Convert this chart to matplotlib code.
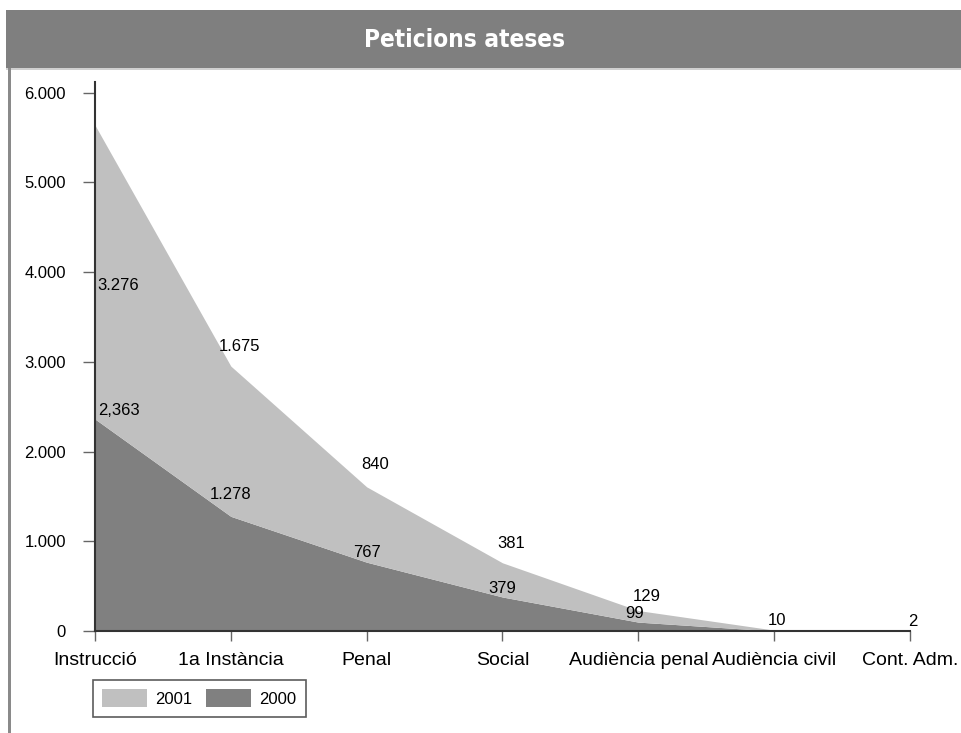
import matplotlib.pyplot as plt
from matplotlib.patches import Patch, Rectangle
from matplotlib.ticker import FuncFormatter
import numpy as np

plt.rcParams['font.family'] = ['Liberation Sans', 'DejaVu Sans']

categories = ['Instrucció', '1a Instància', 'Penal', 'Social',
              'Audiència penal', 'Audiència civil', 'Cont. Adm.']
v2000 = [2363, 1278, 767, 379, 99, 0, 0]
v2001 = [3276, 1675, 840, 381, 129, 10, 2]
lab2000 = ['2,363', '1.278', '767', '379', '99', '', '']
lab2001 = ['3.276', '1.675', '840', '381', '129', '10', '2']
yticks = [0, 1000, 2000, 3000, 4000, 5000, 6000]

c_light = '#c0c0c0'
c_dark = '#808080'

fig = plt.figure(figsize=(9.62, 7.33), dpi=100)

# title bar and left border
fig.patches.append(Rectangle((6/962, 1-68/733), 1, 58/733, transform=fig.transFigure,
                             facecolor='#7f7f7f', edgecolor='none'))
fig.patches.append(Rectangle((6/962, 1-70/733), 1, 2/733, transform=fig.transFigure,
                             facecolor='#d0d0d0', edgecolor='none'))
fig.patches.append(Rectangle((8/962, 0), 3/962, 1-68/733, transform=fig.transFigure,
                             facecolor='#8a8a8a', edgecolor='none'))
fig.text(0.483, 1-40/733, 'Peticions ateses', color='white', fontsize=17.5,
         fontweight='bold', fontstretch='condensed', ha='center', va='center',
         family=['DejaVu Sans'])

ax = fig.add_axes([95/962, 1-631/733, 815/962, 549/733])
x = np.arange(len(categories))
low = np.array(v2000)
top = low + np.array(v2001)
ax.fill_between(x, 0, low, color=c_dark, lw=0)
ax.fill_between(x, low, top, color=c_light, lw=0)

ax.set_xlim(0, len(categories) - 1)
ax.set_ylim(0, 6120)
ax.set_yticks(yticks)
ax.yaxis.set_major_formatter(FuncFormatter(lambda v, p: f'{int(v):,}'.replace(',', '.')))
ax.set_xticks(x)
ax.set_xticklabels(categories)

for s in ['top', 'right']:
    ax.spines[s].set_visible(False)
for s in ['left', 'bottom']:
    ax.spines[s].set_color('#333333')
    ax.spines[s].set_linewidth(1.5)
ax.tick_params(axis='y', length=9, width=1, color='#666666', labelsize=12, pad=12)
ax.tick_params(axis='x', length=7, width=1, color='#666666', labelsize=14, pad=8)

# value labels
fs = 12
off2001 = [0, 14, 16, 14, 10, 7, 7]
off2000 = [6, 16, 7, 6, 6, 0, 0]
for i in range(len(categories)):
    if i == 0:
        ax.annotate(lab2001[i], xy=(i, (low[i] + top[i]) / 2), xytext=(2, -10),
                    textcoords='offset points', ha='left', va='center', fontsize=fs)
        ax.annotate(lab2000[i], xy=(i, low[i]), xytext=(2, off2000[i]),
                    textcoords='offset points', ha='left', va='center', fontsize=fs)
        continue
    ax.annotate(lab2001[i], xy=(i, top[i]), xytext=(6 if i < 5 else 2, off2001[i]),
                textcoords='offset points', ha='center', va='center', fontsize=fs)
    if lab2000[i]:
        ax.annotate(lab2000[i], xy=(i, low[i]), xytext=(0 if i < 4 else -3, off2000[i]),
                    textcoords='offset points', ha='center', va='center', fontsize=fs)

handles = [Patch(facecolor=c_light, edgecolor='none'), Patch(facecolor=c_dark, edgecolor='none')]
leg = fig.legend(handles, ['2001', '2000'], loc='upper left',
                 bbox_to_anchor=(93/962, 1-680/733), ncol=2, fontsize=12,
                 frameon=True, fancybox=False, edgecolor='#333333',
                 handlelength=2.7, handleheight=1.3, columnspacing=0.8,
                 handletextpad=0.5, borderpad=0.55, borderaxespad=0)
leg.get_frame().set_linewidth(1.2)

fig.savefig('out.png', dpi=100)
